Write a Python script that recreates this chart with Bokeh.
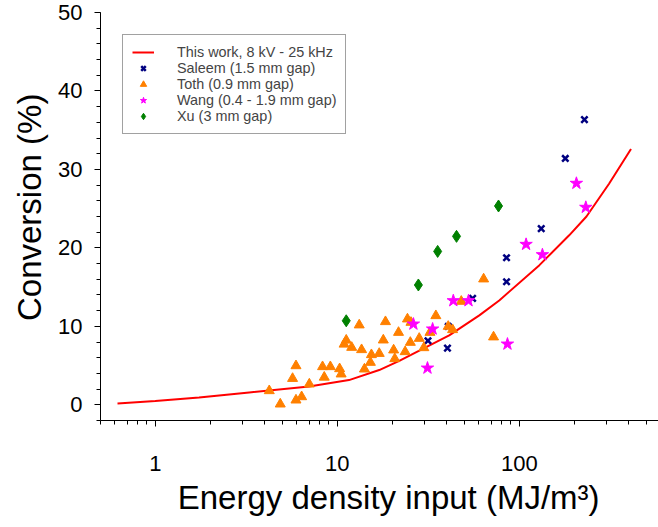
from bokeh.plotting import figure
from bokeh.models import FixedTicker, SingleIntervalTicker, Range1d, CustomJSTickFormatter
from bokeh.embed import file_html
from bokeh.resources import INLINE

# ---- data ----
model_energy = [0.62, 1.0, 1.74, 3.28, 7.0, 11.6, 17.0, 21.9, 41.2, 60.3, 77.6, 129, 188, 234, 312, 411]
model_conv = [0.17, 0.5, 0.93, 1.57, 2.33, 3.15, 4.43, 5.6, 8.85, 11.4, 13.3, 17.8, 21.6, 24.0, 28.2, 32.6]

saleem_energy = [228, 179, 132, 85.1, 85.1, 55.4, 40.7, 31.5, 40.3]
saleem_conv = [36.35, 31.4, 22.45, 18.75, 15.69, 13.56, 9.99, 8.16, 7.23]

toth_energy = [4.23, 4.86, 5.93, 6.37, 5.93, 5.68, 7.02, 8.30, 9.16, 8.48,
               10.3, 10.5, 10.9, 11.2, 12.0, 13.6, 13.2, 18.4, 24.3, 25.4,
               21.7, 17.9, 15.4, 17.0, 20.4, 25.2, 23.6, 15.2, 20.7, 14.1,
               28.2, 34.8, 32.3, 40.7, 43.0, 29.9, 48.0, 63.7, 72.2]
toth_conv = [1.79, 0.09, 0.6, 1.02, 4.97, 3.35, 2.64, 4.85, 4.85, 3.51,
             4.59, 3.92, 7.72, 8.23, 7.31, 7.02, 10.17, 10.59, 10.93, 10.5,
             9.22, 8.25, 6.38, 6.54, 6.98, 7.95, 6.76, 5.40, 5.87, 4.55,
             8.46, 11.35, 9.22, 9.99, 9.57, 7.27, 13.18, 16.03, 8.64]

wang_energy = [206, 232, 109, 134, 43.4, 52.6, 26.2, 33.4, 31.3, 86.1]
wang_conv = [28.23, 25.17, 20.45, 19.13, 13.27, 13.27, 10.29, 9.66, 4.68, 7.74]

xu_energy = [11.2, 27.9, 35.6, 45.2, 76.9]
xu_conv = [10.71, 15.27, 19.55, 21.47, 25.34]

x_major_ticks = [1, 10, 100]
x_minor_ticks = [0.5, 0.6, 0.7, 0.8, 0.9, 2, 3, 4, 5, 6, 7, 8, 9,
                 20, 30, 40, 50, 60, 70, 80, 90, 200, 300, 400, 500]

FONT = "Liberation Sans"
NB = "\u00a0"

p = figure(width=658, height=527, x_axis_type="log",
           x_range=Range1d(0.5, 582), y_range=Range1d(-2, 50),
           output_backend="svg", toolbar_location=None,
           min_border_left=100, min_border_right=0,
           min_border_top=12, min_border_bottom=107)
p.outline_line_color = None
p.grid.visible = False
p.background_fill_color = "white"

p.line(model_energy, model_conv, line_color="#FF0000", line_width=2,
       legend_label="This work, 8 kV - 25 kHz")
p.scatter(saleem_energy, saleem_conv, marker="x", size=9, line_width=2.5,
          line_color="#000080", legend_label="Saleem (1.5 mm gap)")
p.scatter(toth_energy, toth_conv, marker="triangle", size=10,
          fill_color="#FF8000", line_color="#FF8000", legend_label="Toth (0.9 mm gap)")
p.scatter(wang_energy, wang_conv, marker="star", size=13,
          fill_color="#FF00FF", line_color="#FF00FF", legend_label="Wang (0.4 - 1.9 mm gap)")
p.scatter(xu_energy, xu_conv, marker="diamond", size=12,
          fill_color="#008000", line_color="#008000", legend_label="Xu (3 mm gap)")

# axes
xa = p.xaxis[0]
xa.ticker = FixedTicker(ticks=x_major_ticks, minor_ticks=x_minor_ticks)
xa.formatter = CustomJSTickFormatter(code="return String(tick);")
xa.axis_label = NB + NB + "Energy density input (MJ/m³)"
ya = p.yaxis[0]
ya.ticker = SingleIntervalTicker(interval=10, num_minor_ticks=5)
ya.axis_label = NB + NB + "Conversion (%)"

for ax in (xa, ya):
    ax.axis_line_color = "black"
    ax.axis_line_width = 1
    ax.major_tick_line_color = "black"
    ax.minor_tick_line_color = "black"
    ax.major_tick_in = 0
    ax.minor_tick_in = 0
    ax.major_tick_out = 6
    ax.minor_tick_out = 4
    ax.major_label_text_font = FONT
    ax.major_label_text_font_size = "22px"
    ax.major_label_text_color = "black"
    ax.axis_label_text_font = FONT
    ax.axis_label_text_font_size = "33px"
    ax.axis_label_text_font_style = "normal"
    ax.axis_label_text_color = "black"

xa.major_label_standoff = 29
xa.axis_label_standoff = 5
ya.major_label_standoff = 12
ya.axis_label_standoff = 7

lg = p.legend[0]
lg.location = "top_left"
lg.margin = 22
lg.padding = 9
lg.spacing = 0
lg.label_height = 16
lg.glyph_height = 16
lg.glyph_width = 22
lg.label_standoff = 23
lg.label_text_font = FONT
lg.label_text_font_size = "14.4px"
lg.border_line_color = "#444444"
lg.border_line_width = 1
lg.background_fill_color = "white"
lg.background_fill_alpha = 1.0

open("out.html", "w").write(file_html(p, INLINE))
